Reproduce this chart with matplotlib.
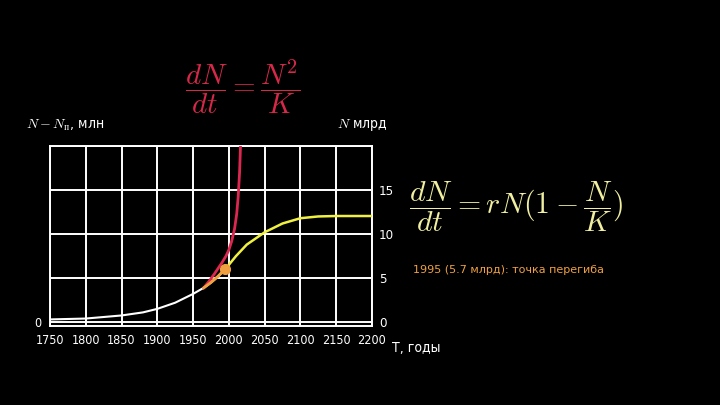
import matplotlib
matplotlib.use("Agg")
import matplotlib.pyplot as plt

plt.rcParams["mathtext.fontset"] = "cm"
TICKFONT = dict(family="DejaVu Sans", stretch="condensed")

# white: historical growth, years / billions
hist_years = [1750, 1800, 1850, 1880, 1900, 1925, 1950, 1965]
hist_vals = [0.3, 0.4, 0.75, 1.1, 1.5, 2.2, 3.2, 3.9]

# yellow: logistic curve
logi_years = [1965, 1975, 1985, 1995, 2000, 2010, 2025, 2050, 2075, 2100, 2125, 2150, 2200]
logi_vals = [3.9, 4.5, 5.2, 6.0, 6.5, 7.5, 8.8, 10.2, 11.2, 11.8, 12.0, 12.05, 12.05]

# orange overlay near the inflection
orange_years = [1965, 1975, 1985, 1993]
orange_vals = [3.9, 4.5, 5.2, 5.9]

# red: hyperbolic growth
hyp_years = [1965, 1972, 1980, 1990, 1996, 2000, 2004, 2008, 2011, 2013, 2015, 2016.5]
hyp_vals = [3.9, 4.6, 5.5, 6.7, 7.5, 8.2, 9.2, 10.6, 12.3, 14.2, 17.0, 20.5]

infl_year, infl_val = 1995, 6.0

x_ticks = [1750, 1800, 1850, 1900, 1950, 2000, 2050, 2100, 2150, 2200]
y_grid = [0, 5, 10, 15, 20]
y_right_labels = ["0", "5", "10", "15", ""]

fig = plt.figure(figsize=(7.2, 4.05), dpi=100, facecolor="black")
ax = fig.add_axes([0.0694, 0.195, 0.4472, 0.4444], facecolor="black")

ax.set_xlim(1750, 2200)
ax.set_ylim(-0.45, 20)
ax.set_xticks(x_ticks)
ax.set_yticks(y_grid)
ax.grid(True, color="white", lw=1.4)
for s in ax.spines.values():
    s.set_color("white")
    s.set_linewidth(1.4)
ax.tick_params(length=0, colors="white", labelsize=9, pad=6)
ax.set_xticklabels([str(t) for t in x_ticks], **TICKFONT)
ax.set_yticklabels(["0", "", "", "", ""], **TICKFONT)

axr = ax.twinx()
axr.set_ylim(ax.get_ylim())
axr.set_yticks(y_grid)
axr.set_yticklabels(y_right_labels, **TICKFONT)
axr.tick_params(length=0, colors="white", labelsize=9.5, pad=5)
for s in axr.spines.values():
    s.set_visible(False)

ax.plot(hist_years, hist_vals, color="white", lw=1.5, zorder=3)
ax.plot(logi_years, logi_vals, color="#f0f040", lw=1.8, zorder=3)
ax.plot(hyp_years, hyp_vals, color="#dc2850", lw=2.0, zorder=4)
ax.plot(orange_years, orange_vals, color="#f0a040", lw=2.0, zorder=5)
ax.plot([infl_year], [infl_val], "o", color="#f0a040", ms=7, zorder=6)

fig.text(0.036, 0.671, r"$N - N_{\rm п}$, млн", color="white", fontsize=10,
         va="bottom", **TICKFONT)
fig.text(0.468, 0.671, r"$N$ млрд", color="white", fontsize=10,
         va="bottom", **TICKFONT)
fig.text(0.545, 0.141, "Т, годы", color="white", fontsize=10,
         va="center", **TICKFONT)

fig.text(0.337, 0.785, r"$\dfrac{dN}{dt} = \dfrac{N^2}{K}$", color="#d8284a",
         fontsize=21, ha="center", va="center")
fig.text(0.568, 0.487, r"$\dfrac{dN}{dt} = rN(1 - \dfrac{N}{K})$", color="#f0f0a0",
         fontsize=21.5, ha="left", va="center")
fig.text(0.573, 0.333, "1995 (5.7 млрд): точка перегиба", color="#f0a040",
         fontsize=8, ha="left", va="center")

fig.savefig("out.png", dpi=100, facecolor="black")
